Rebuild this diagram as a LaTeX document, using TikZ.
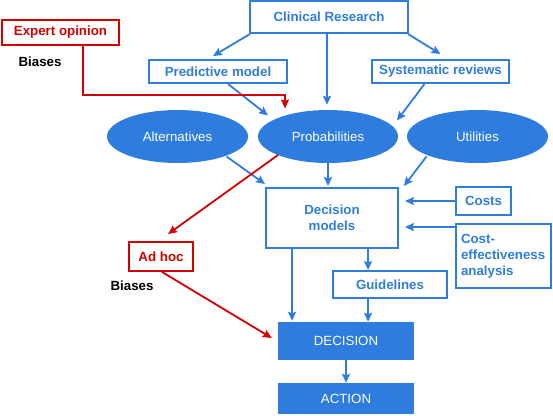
\documentclass[tikz,border=0pt]{standalone}
\usepackage{fontspec}
\setmainfont{Liberation Sans}
\usetikzlibrary{arrows.meta,shapes.geometric,calc}
\definecolor{bl}{RGB}{46,125,222}
\definecolor{rd}{RGB}{212,0,0}
\begin{document}
\begin{tikzpicture}[x=1pt,y=-1pt,
  box/.style={draw=bl, line width=1.9pt, text=bl, font=\bfseries\fontsize{13.3}{16}\selectfont, inner sep=0pt, align=center},
  rbox/.style={box, draw=rd, text=rd},
  ell/.style={ellipse, fill=bl, text=white, font=\fontsize{13.3}{15}\selectfont, inner sep=0pt},
  fbox/.style={fill=bl, text=white, font=\fontsize{13.3}{15}\selectfont, inner sep=0pt},
  lbl/.style={font=\bfseries\fontsize{13.3}{15}\selectfont, text=black},
  arr/.style={draw=bl, line width=1.8pt, -{Stealth[length=9pt,width=8pt,inset=1.5pt]}},
  rarr/.style={arr, draw=rd},
]
\useasboundingbox (0,0) rectangle (553,415);
% nodes
\node[box, minimum width=158pt, minimum height=32pt] (cr) at (329,17) {Clinical Research};
\node[rbox, minimum width=117pt, minimum height=25pt] (eo) at (60.5,32.5) {Expert opinion};
\node[lbl] (b1) at (40,62) {Biases};
\node[box, minimum width=138pt, minimum height=23pt] (pm) at (218,71.5) {Predictive model};
\node[box, minimum width=137pt, minimum height=23pt] (sr) at (440.5,71.5) {Systematic reviews};
\node[ell, minimum width=141pt, minimum height=53pt] (alt) at (177.5,136.5) {Alternatives};
\node[ell, minimum width=140pt, minimum height=53pt] (prob) at (328,136.5) {Probabilities};
\node[ell, minimum width=141pt, minimum height=53pt] (util) at (477.5,136.5) {Utilities};
\node[box, minimum width=132pt, minimum height=60pt] (dm) at (332,218) {Decision\\models};
\node[box, minimum width=55pt, minimum height=28pt] (costs) at (483.5,201) {Costs};
\node[box, minimum width=95pt, minimum height=64pt, align=left, text width=85pt] (cea) at (503.5,256) {Cost-\\effectiveness\\analysis};
\node[box, minimum width=114pt, minimum height=27pt] (gl) at (390,284.5) {Guidelines};
\node[rbox, minimum width=64pt, minimum height=29pt] (ah) at (161,256.5) {Ad hoc};
\node[lbl] (b2) at (132,286) {Biases};
\node[fbox, minimum width=136pt, minimum height=38pt] (dec) at (346,341) {DECISION};
\node[fbox, minimum width=136pt, minimum height=31pt] (act) at (346,398.5) {ACTION};
% helper coordinates for vertical connectors
\coordinate (dmL) at ($(dm.south west)+(27,0)$);
\coordinate (glx) at ($(gl.north west)+(36,0)$);
\coordinate (crx) at ($(cr.south)+(-2,0)$);
% blue connectors
\draw[arr] ($(cr.south west)+(1,0)$) -- ($(pm.north)+(-5,-3)$);
\draw[arr] (crx) -- ($(crx |- prob.north)+(0,-5)$);
\draw[arr] ($(cr.south east)+(-1,0)$) -- ($(sr.north)+(0,-5)$);
\draw[arr] ($(pm.south)+(10,0)$) -- ($(prob.center)+(-60,-21)$);
\draw[arr] ($(sr.south)+(-16,0)$) -- ($(prob.center)+(69,-16)$);
\draw[arr] ($(alt.center)+(49,20)$) -- ($(dm.north west)+(0,-3)$);
\draw[arr] (prob.south) -- ($(prob.south |- dm.north)+(0,-1)$);
\draw[arr] ($(util.center)+(-51,20)$) -- ($(dm.north east)+(5,-1)$);
\draw[arr] (costs.west) -- ($(dm.east |- costs.west)+(6,0)$);
\draw[arr] ($(cea.north west)+(0,4)$) -- ($(dm.east |- cea.north west)+(6,4)$);
\draw[arr] (glx |- dm.south) -- (glx);
\draw[arr] (dmL) -- ($(dmL |- dec.north)+(0,-1)$);
\draw[arr] (glx |- gl.south) -- (glx |- dec.north);
\draw[arr] (dec.south) -- (act.north);
% red connectors
\draw[rarr] ($(eo.south)+(22.5,0)$) |- ($(prob.center)+(-43,-41.5)$) -- ($(prob.center)+(-43,-28)$);
\draw[rarr] ($(prob.center)+(-50,18.5)$) -- ($(ah.north)+(7,-7)$);
\draw[rarr] ($(ah.south)+(1,0)$) -- ($(dec.west)+(-6,-3)$);
\end{tikzpicture}
\end{document}
